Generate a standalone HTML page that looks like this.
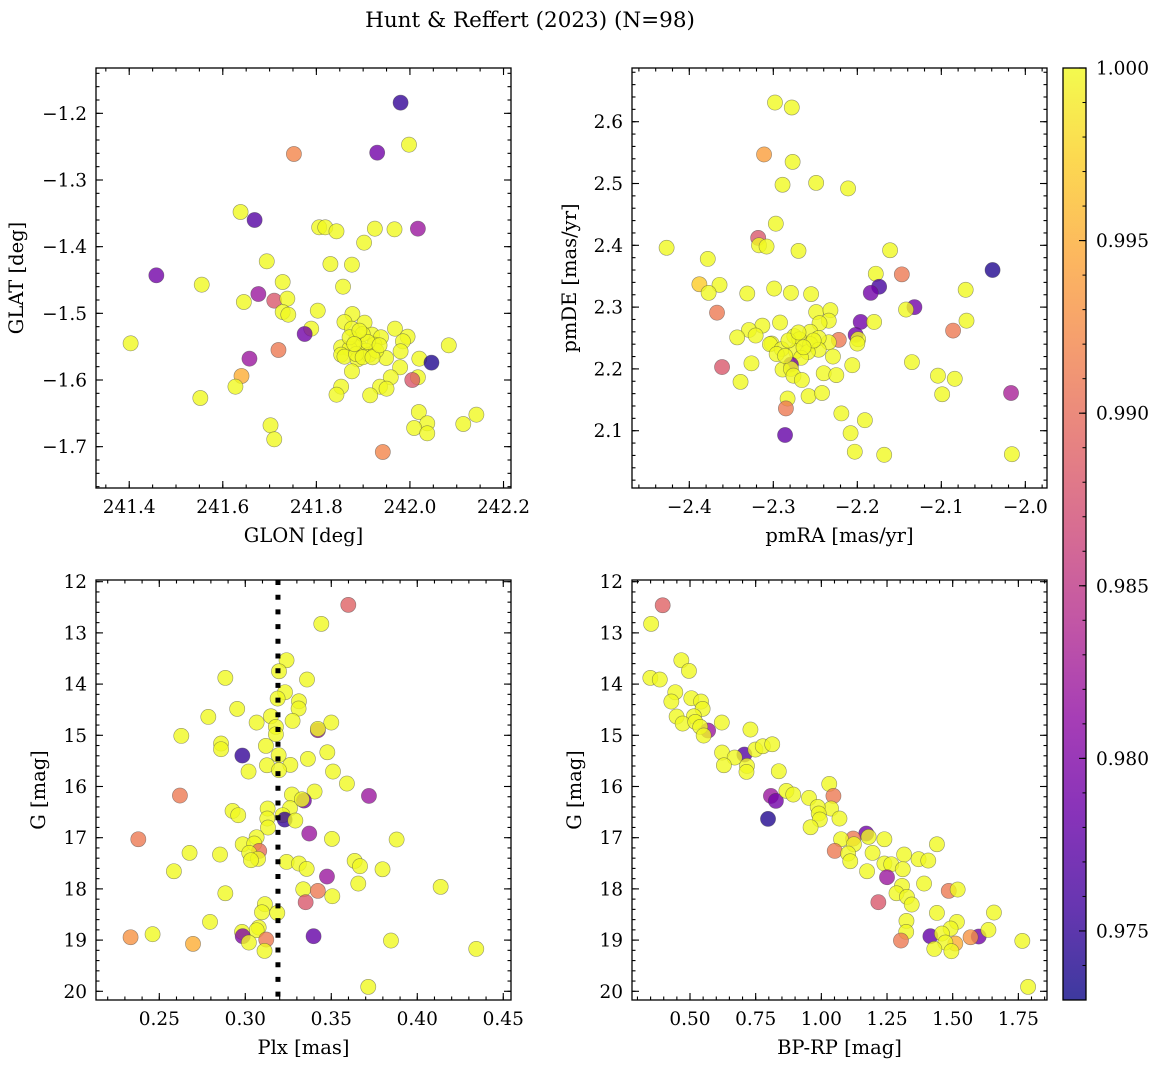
<!DOCTYPE html>
<html><head><meta charset="utf-8"><style>
body{margin:0;background:#fff;}
svg{display:block;font-family:"DejaVu Serif","Liberation Serif",serif;}
</style></head><body>
<svg id="fig" width="1161" height="1067" viewBox="0 0 1161 1067" xmlns="http://www.w3.org/2000/svg">
<text x="530" y="27" text-anchor="middle" font-size="21.5">Hunt &amp; Reffert (2023) (N=98)</text>
</svg>
<script>
// ---- Panel 1: GLON vs GLAT ----
const glonX=[241.980,241.998,241.930,241.752,241.638,241.668,241.806,241.819,241.843,241.925,241.967,242.017,241.902,241.694,241.830,241.876,241.458,241.555,241.728,241.857,241.676,241.710,241.645,241.738,241.728,241.740,241.803,241.877,241.860,241.789,241.775,241.903,241.876,241.968,241.995,241.919,241.938,241.985,241.403,242.083,241.885,241.892,241.924,241.853,241.871,241.906,241.719,241.980,241.853,241.860,241.888,241.913,241.949,242.020,242.046,241.657,241.876,241.979,241.959,241.640,242.017,242.005,241.627,241.853,241.936,241.950,241.843,241.915,241.552,242.019,242.142,242.114,242.037,241.702,242.009,242.037,241.710,241.942,241.899,241.885,241.928,241.910,241.871,241.899,241.920,241.892,241.935,241.881];
const glatY=[-1.184,-1.247,-1.259,-1.261,-1.348,-1.360,-1.371,-1.371,-1.377,-1.373,-1.374,-1.373,-1.394,-1.422,-1.426,-1.427,-1.443,-1.457,-1.453,-1.460,-1.471,-1.481,-1.483,-1.478,-1.498,-1.502,-1.496,-1.501,-1.513,-1.523,-1.531,-1.514,-1.523,-1.523,-1.535,-1.532,-1.536,-1.542,-1.545,-1.548,-1.540,-1.550,-1.547,-1.551,-1.553,-1.556,-1.555,-1.557,-1.562,-1.565,-1.569,-1.562,-1.567,-1.568,-1.574,-1.568,-1.587,-1.581,-1.596,-1.594,-1.596,-1.600,-1.610,-1.610,-1.610,-1.613,-1.622,-1.623,-1.627,-1.648,-1.652,-1.666,-1.665,-1.668,-1.672,-1.680,-1.689,-1.708,-1.531,-1.561,-1.556,-1.543,-1.536,-1.566,-1.566,-1.526,-1.548,-1.546];
const p1C=[0.975,1,0.979,0.992,1,0.977,1,1,1,1,1,0.982,1,1,1,1,0.979,1,1,1,0.982,0.988,1,1,1,1,1,1,1,1,0.979,1,1,1,1,1,1,1,1,1,1,1,1,1,1,1,0.991,1,1,1,1,1,1,1,0.974,0.982,1,1,1,0.995,1,0.988,1,1,1,1,1,1,1,1,1,1,1,1,1,1,1,0.992,1,1,1,1,1,1,1,1,1,1];
// ---- Panel 2: pmRA vs pmDE ----
const pmraX=[-2.298,-2.278,-2.311,-2.277,-2.289,-2.249,-2.211,-2.297,-2.318,-2.317,-2.308,-2.270,-2.427,-2.161,-2.378,-2.039,-2.178,-2.147,-2.174,-2.184,-2.388,-2.364,-2.377,-2.071,-2.331,-2.299,-2.279,-2.255,-2.132,-2.142,-2.367,-2.249,-2.232,-2.234,-2.245,-2.196,-2.180,-2.292,-2.313,-2.329,-2.321,-2.343,-2.070,-2.086,-2.256,-2.202,-2.199,-2.200,-2.222,-2.234,-2.246,-2.275,-2.269,-2.302,-2.304,-2.290,-2.256,-2.246,-2.273,-2.259,-2.296,-2.267,-2.229,-2.279,-2.326,-2.361,-2.206,-2.135,-2.289,-2.279,-2.276,-2.266,-2.240,-2.225,-2.104,-2.084,-2.339,-2.099,-2.017,-2.258,-2.242,-2.283,-2.285,-2.219,-2.191,-2.208,-2.286,-2.203,-2.168,-2.016,-2.282,-2.252,-2.264,-2.286,-2.270];
const pmdeY=[2.631,2.623,2.547,2.535,2.498,2.501,2.492,2.435,2.412,2.400,2.398,2.391,2.396,2.392,2.378,2.360,2.354,2.353,2.333,2.323,2.337,2.336,2.323,2.328,2.322,2.330,2.323,2.321,2.300,2.296,2.291,2.292,2.295,2.278,2.274,2.276,2.276,2.275,2.270,2.263,2.254,2.251,2.278,2.262,2.260,2.255,2.248,2.241,2.247,2.243,2.250,2.253,2.248,2.241,2.240,2.232,2.240,2.231,2.229,2.227,2.224,2.218,2.220,2.207,2.209,2.203,2.206,2.211,2.199,2.200,2.189,2.182,2.193,2.190,2.189,2.184,2.179,2.159,2.161,2.156,2.161,2.152,2.136,2.128,2.117,2.096,2.093,2.066,2.061,2.062,2.246,2.246,2.235,2.221,2.259];
const p2C=[1,1,0.994,1,1,1,1,1,0.988,1,1,1,1,1,1,0.974,1,0.991,0.976,0.979,0.997,1,1,1,1,1,1,1,0.979,1,0.991,1,1,1,1,0.979,1,1,1,1,1,1,1,0.991,1,0.979,1,1,0.991,1,1,1,1,1,1,1,1,1,1,1,1,1,1,0.979,1,0.988,1,1,1,1,1,1,1,1,1,1,1,1,0.983,1,1,1,0.991,1,1,1,0.978,1,1,1,1,1,1,1,1];
// ---- Panel 3: Plx vs G ----
const plxX=[0.3599,0.3442,0.3240,0.3196,0.2884,0.3359,0.3231,0.3188,0.3312,0.3310,0.2953,0.2785,0.3149,0.3066,0.3275,0.3500,0.3178,0.3422,0.3422,0.3178,0.2628,0.2859,0.2859,0.3120,0.2983,0.3477,0.3194,0.3364,0.3126,0.3262,0.3019,0.3196,0.3510,0.3591,0.2620,0.3719,0.3403,0.3271,0.3341,0.3329,0.3260,0.3130,0.2926,0.2959,0.3217,0.3229,0.3291,0.3128,0.3132,0.3372,0.3504,0.3880,0.2378,0.3066,0.2985,0.3052,0.3081,0.3023,0.3074,0.3033,0.2676,0.2853,0.3240,0.3312,0.3357,0.3636,0.3667,0.3798,0.2585,0.3475,0.3657,0.4136,0.2884,0.3337,0.3422,0.3506,0.3351,0.3114,0.3097,0.3186,0.2795,0.3078,0.3066,0.2981,0.2985,0.3397,0.2461,0.2333,0.3122,0.3847,0.3021,0.2696,0.3112,0.4343,0.3715];
const plxG=[12.453,12.824,13.534,13.749,13.879,13.911,14.159,14.283,14.335,14.478,14.484,14.641,14.628,14.751,14.719,14.751,14.836,14.901,14.875,14.979,15.012,15.161,15.272,15.207,15.396,15.331,15.389,15.461,15.585,15.578,15.708,15.682,15.708,15.943,16.177,16.184,16.099,16.158,16.275,16.249,16.424,16.431,16.477,16.561,16.561,16.646,16.665,16.626,16.802,16.919,17.023,17.036,17.030,16.991,17.128,17.115,17.258,17.297,17.414,17.440,17.297,17.329,17.473,17.505,17.609,17.453,17.557,17.616,17.655,17.759,17.896,17.961,18.085,18.007,18.039,18.143,18.260,18.299,18.456,18.469,18.645,18.755,18.807,18.840,18.924,18.924,18.885,18.944,18.990,19.009,19.048,19.074,19.211,19.172,19.914];
const p3C=[0.989,1,1,1,1,1,1,1,1,1,1,1,1,1,1,1,1,0.982,1,1,1,1,1,1,0.975,1,1,1,1,1,1,1,1,1,0.991,0.982,1,1,0.979,1,1,1,1,1,1,0.975,1,1,1,0.982,1,1,0.991,1,1,1,0.99,1,1,1,1,1,1,1,1,1,1,1,1,0.982,1,1,1,1,0.991,1,0.988,1,1,1,1,1,1,1,0.98,0.978,1,0.993,0.991,1,1,0.995,1,1,1];
const plxRef=[0.319];
// ---- Panel 4: BP-RP vs G ----
const bprpX=[0.396,0.352,0.467,0.496,0.349,0.385,0.444,0.429,0.505,0.542,0.548,0.515,0.449,0.472,0.520,0.569,0.539,0.552,0.621,0.730,0.707,0.622,0.670,0.629,0.717,0.715,0.749,0.777,0.813,0.838,0.808,0.827,0.797,0.867,0.893,0.953,1.030,1.046,1.037,0.986,0.990,0.994,0.959,1.069,1.171,1.121,1.180,1.075,1.124,1.051,1.102,1.110,1.195,1.240,1.440,1.315,1.370,1.407,1.240,1.266,1.174,1.310,1.250,1.391,1.307,1.286,1.485,1.519,1.326,1.344,1.217,1.440,1.657,1.324,1.323,1.303,1.516,1.492,1.415,1.459,1.599,1.568,1.636,1.510,1.472,1.430,1.495,1.765,1.787];
const bprpG=[12.460,12.824,13.534,13.742,13.879,13.911,14.159,14.341,14.276,14.341,14.484,14.628,14.634,14.771,14.738,14.907,14.836,15.005,14.751,14.888,15.376,15.337,15.435,15.585,15.598,15.715,15.279,15.214,15.175,15.702,16.184,16.281,16.633,16.086,16.158,16.223,15.950,16.184,16.431,16.398,16.528,16.646,16.796,16.626,16.919,17.017,16.984,17.030,17.128,17.258,17.310,17.460,17.297,17.030,17.128,17.329,17.420,17.447,17.505,17.518,17.655,17.616,17.772,17.896,17.941,18.085,18.039,18.013,18.156,18.306,18.260,18.469,18.462,18.625,18.840,19.009,18.645,18.775,18.924,18.872,18.931,18.944,18.801,19.067,19.048,19.172,19.217,19.015,19.914];
const p4C=[0.989,1,1,1,1,1,1,1,1,1,1,1,1,1,1,0.982,1,1,1,1,0.977,1,1,1,1,1,1,1,1,1,0.982,0.979,0.974,1,1,1,1,0.991,1,1,1,1,1,1,0.979,0.991,1,1,1,0.991,1,1,1,1,1,1,1,1,1,1,1,1,0.982,1,1,1,0.991,1,1,1,0.988,1,1,1,1,0.991,1,1,0.978,1,0.979,0.993,1,0.995,1,1,1,1,1];
// ---- Colorbar ----
const cbTicks=[0.975,0.980,0.985,0.990,0.995,1.000];
const cbMin=0.973, cbMax=1.0;

const NS='http://www.w3.org/2000/svg';
const svg=document.getElementById('fig');
const plasma=[[13,8,135],[65,4,157],[106,0,168],[143,13,164],[177,42,144],[204,71,120],[225,100,98],[242,132,75],[252,166,54],[252,206,37],[240,249,33]];
function cmap(v){let t=(v-cbMin)/(cbMax-cbMin);t=Math.max(0,Math.min(1,t));const f=t*10,i=Math.min(9,Math.floor(f)),r=f-i;const a=plasma[i],b=plasma[i+1];return 'rgb('+a.map((c,k)=>Math.round(c+(b[k]-c)*r)).join(',')+')';}
function mk(tag,attrs,parent){const e=document.createElementNS(NS,tag);for(const k in attrs)e.setAttribute(k,attrs[k]);(parent||svg).appendChild(e);return e;}
function fmt(v,d){return v.toFixed(d).replace('-','\u2212');}
const TFS=18.5, LFS=19.5;

function panel(name,box,xd,yd,xMaj,xMin,yMaj,yMin,xd_dec,yd_dec,xs,ys,cs,xlabel,ylabel,ylabX){
  const g=mk('g',{});
  
  
  const X=v=>box.x0+(v-xd[0])/(xd[1]-xd[0])*(box.x1-box.x0);
  const Y=v=>box.y0+(v-yd[0])/(yd[1]-yd[0])*(box.y1-box.y0);
  const pts=mk('g',{},g);
  
  
  for(let i=0;i<xs.length;i++){
    const c=mk('circle',{cx:X(xs[i]),cy:Y(ys[i]),r:7.6,fill:cmap(cs[i]),'fill-opacity':0.8,stroke:'#444','stroke-opacity':0.55,'stroke-width':0.6},pts);
    
    
  }
  const ax=mk('g',{stroke:'#000','stroke-width':1.1},g);
  
  
  for(const v of xMin){const px=X(v);if(px<box.x0-0.5||px>box.x1+0.5)continue;mk('line',{x1:px,x2:px,y1:box.y1,y2:box.y1-3.5},ax);mk('line',{x1:px,x2:px,y1:box.y0,y2:box.y0+3.5},ax);}
  for(const v of yMin){const py=Y(v);if(py<box.y0-0.5||py>box.y1+0.5)continue;mk('line',{x1:box.x0,x2:box.x0+3.5,y1:py,y2:py},ax);mk('line',{x1:box.x1,x2:box.x1-3.5,y1:py,y2:py},ax);}
  for(const v of xMaj){const px=X(v);mk('line',{x1:px,x2:px,y1:box.y1,y2:box.y1-7},ax);mk('line',{x1:px,x2:px,y1:box.y0,y2:box.y0+7},ax);
    const t=mk('text',{x:px,y:box.y1+25,'text-anchor':'middle','font-size':TFS,stroke:'none'},g);t.textContent=fmt(v,xd_dec);
    }
  for(const v of yMaj){const py=Y(v);mk('line',{x1:box.x0,x2:box.x0+7,y1:py,y2:py},ax);mk('line',{x1:box.x1,x2:box.x1-7,y1:py,y2:py},ax);
    const t=mk('text',{x:box.x0-9,y:py+6.5,'text-anchor':'end','font-size':TFS,stroke:'none'},g);t.textContent=fmt(v,yd_dec);
    }
  mk('rect',{x:box.x0,y:box.y0,width:box.x1-box.x0,height:box.y1-box.y0,fill:'none',stroke:'#000','stroke-width':1.3},g);
  const xl=mk('text',{x:(box.x0+box.x1)/2,y:box.y1+54,'text-anchor':'middle','font-size':LFS},g);xl.textContent=xlabel;
  
  const cy=(box.y0+box.y1)/2;
  const yl=mk('text',{x:ylabX,y:cy,'text-anchor':'middle','font-size':LFS,transform:'rotate(-90 '+ylabX+' '+cy+')'},g);yl.textContent=ylabel;
  
  return {X,Y,g};
}
function range(a,b,s){const r=[];for(let v=a;v<=b+s*1e-3;v+=s)r.push(Math.round(v/s)*s);return r;}

panel('panel-sky',{x0:96,x1:511,y0:68,y1:488},[241.329,242.216],[-1.132,-1.762],
  [241.4,241.6,241.8,242.0,242.2],range(241.35,242.2,0.05),[-1.2,-1.3,-1.4,-1.5,-1.6,-1.7],range(-1.76,-1.14,0.02),1,1,
  glonX,glatY,p1C,'GLON [deg]','GLAT [deg]',23);
panel('panel-pm',{x0:632,x1:1047,y0:68,y1:488},[-2.4682,-1.9742],[2.6869,2.0073],
  [-2.4,-2.3,-2.2,-2.1,-2.0],range(-2.46,-1.98,0.02),[2.6,2.5,2.4,2.3,2.2,2.1],range(2.02,2.68,0.02),1,1,
  pmraX,pmdeY,p2C,'pmRA [mas/yr]','pmDE [mas/yr]',576);
const p3=panel('panel-plx',{x0:96,x1:511,y0:580,y1:1000},[0.2132,0.4545],[11.967,20.17],
  [0.25,0.30,0.35,0.40,0.45],range(0.22,0.45,0.01),[12,13,14,15,16,17,18,19,20],range(12,20,0.2),2,0,
  plxX,plxG,p3C,'Plx [mas]','G [mag]',45);
const ref=mk('line',{x1:p3.X(plxRef[0]),x2:p3.X(plxRef[0]),y1:580,y2:1000,stroke:'#000','stroke-width':5,'stroke-dasharray':'5 9.7'},p3.g);


panel('panel-cmd',{x0:632,x1:1047,y0:580,y1:1000},[0.2792,1.859],[11.967,20.17],
  [0.50,0.75,1.00,1.25,1.50,1.75],range(0.3,1.85,0.05),[12,13,14,15,16,17,18,19,20],range(12,20,0.2),2,0,
  bprpX,bprpG,p4C,'BP-RP [mag]','G [mag]',581);

// colorbar
const cb=mk('g',{});


const defs=mk('defs',{},cb);
const lg=mk('linearGradient',{id:'cbg',x1:0,y1:1,x2:0,y2:0},defs);
plasma.forEach((c,i)=>mk('stop',{offset:(i*10)+'%','stop-color':'rgb('+c.join(',')+')'},lg));
const CY=v=>1000-(v-cbMin)/(cbMax-cbMin)*932;
mk('rect',{x:1063,y:68,width:23,height:932,fill:'url(#cbg)','fill-opacity':0.8},cb);
for(const v of range(0.973,1.0,0.001)){mk('line',{x1:1086,x2:1082.5,y1:CY(v),y2:CY(v),stroke:'#000','stroke-width':1},cb);}
for(const v of cbTicks){const y=CY(v);mk('line',{x1:1086,x2:1079,y1:y,y2:y,stroke:'#000','stroke-width':1.1},cb);
  const t=mk('text',{x:1096,y:y+6.5,'font-size':TFS},cb);t.textContent=v.toFixed(3);
  }
mk('rect',{x:1063,y:68,width:23,height:932,fill:'none',stroke:'#000','stroke-width':1.3},cb);
</script>
</body></html>
